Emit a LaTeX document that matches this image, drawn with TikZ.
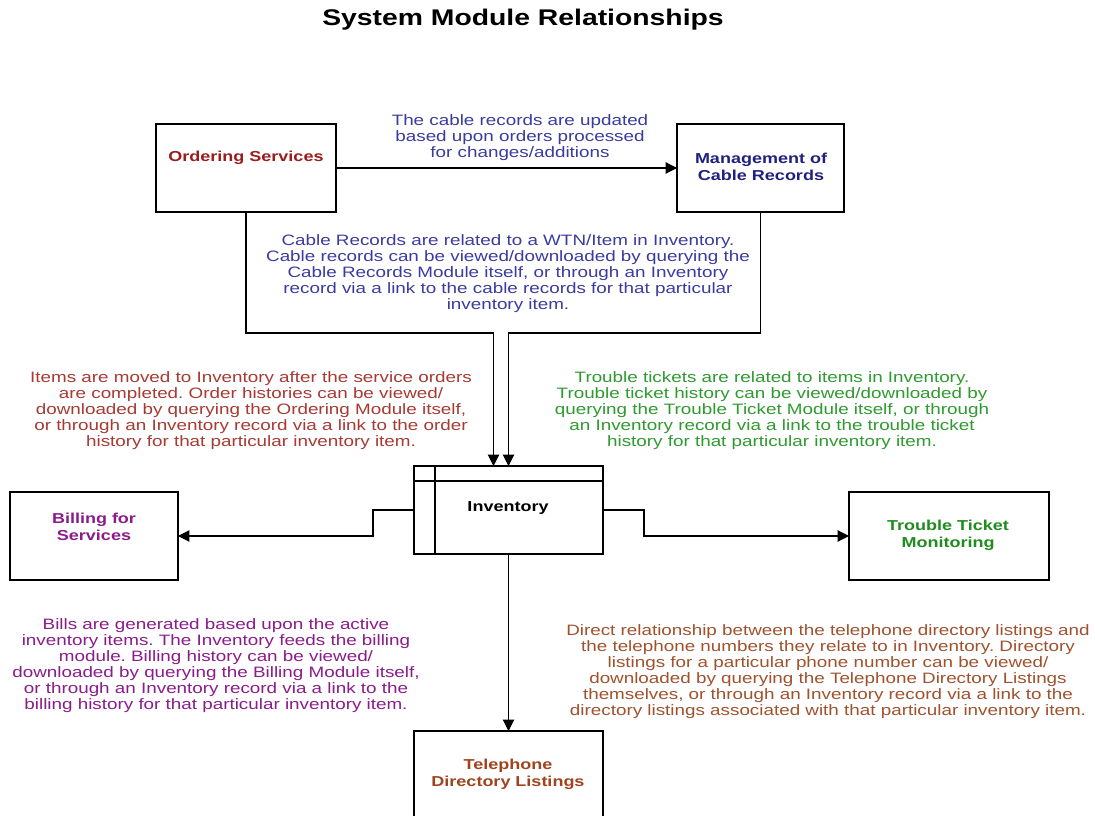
\documentclass[tikz,border=0pt]{standalone}
\usepackage{fontspec}
\setmainfont{Liberation Sans}[FakeStretch=1.25]
\usetikzlibrary{arrows.meta}
\frenchspacing

\definecolor{ordred}{HTML}{9A1C1C}
\definecolor{mgmtblue}{HTML}{202080}
\definecolor{cableblue}{HTML}{3B3BA0}
\definecolor{itemred}{HTML}{A83A32}
\definecolor{tickgreen}{HTML}{2E9B2E}
\definecolor{monigreen}{HTML}{1E8C1E}
\definecolor{billpurple}{HTML}{8B1C8B}
\definecolor{dirbrown}{HTML}{A0522D}
\definecolor{telbrown}{HTML}{A0441E}

\tikzset{
  module/.style={draw=black, line width=0.8pt, fill=white, inner sep=0pt, outer sep=0pt},
  modlabel/.style={font=\fontsize{10.8}{12.75}\selectfont\bfseries, align=center, inner sep=0pt},
  note/.style={font=\fontsize{11.3}{12}\selectfont, align=center, inner sep=0pt},
  link/.style={line width=0.8pt, -{Triangle[length=8.5pt, width=8.5pt]}},
  plainlink/.style={line width=0.8pt},
}

\begin{document}
\begin{tikzpicture}[x=0.75pt, y=-0.75pt]
\clip (0,0) rectangle (1095,816);
\fill[white] (0,0) rectangle (1095,816);

% title
\node[font=\fontsize{17}{20}\selectfont\bfseries, inner sep=0pt] (title) at (523,20) {System Module Relationships};

% module boxes
\node[module, minimum width=135pt, minimum height=66pt] (ord) at (246,168) {};
\node[module, minimum width=125.25pt, minimum height=66pt] (mgmt) at (760.5,168) {};
\node[module, minimum width=141.75pt, minimum height=66pt] (inv) at (508.5,510) {};
\node[module, minimum width=126pt, minimum height=66pt] (bill) at (94,536) {};
\node[module, minimum width=150pt, minimum height=66pt] (trouble) at (949,536) {};
\node[module, minimum width=141.75pt, minimum height=82.5pt] (tel) at (508.5,786) {};

% inner rules of the inventory box
\draw[plainlink] (inv.north west) ++(21,0) coordinate (invv) -- (invv |- inv.south);
\draw[plainlink] (inv.north west) ++(0,15) coordinate (invh) -- (invh -| inv.east);

% box labels
\node[modlabel, text=ordred] (ordlbl) at (246,158) {Ordering Services};
\node[modlabel, text=mgmtblue] (mgmtlbl) at (761,166.5) {Management of\\Cable Records};
\node[modlabel, text=black] (invlbl) at (508,508) {Inventory};
\node[modlabel, text=billpurple] (billlbl) at (94,527) {Billing for\\Services};
\node[modlabel, text=monigreen] (troublelbl) at (948,535) {Trouble Ticket\\Monitoring};
\node[modlabel, text=telbrown] (tellbl) at (508,774) {Telephone\\Directory Listings};

% connectors
\draw[link] (ord.east) -- (mgmt.west);
\coordinate (ordturn) at (246,333);
\coordinate (mgmtturn) at (760.5,333);
\coordinate (invinA) at (493.5,466);
\coordinate (invinB) at (508.5,466);
\draw[link] (ord.south) -- (ordturn) -- (ordturn -| invinA) -- (invinA);
\draw[link] (mgmt.south) -- (mgmtturn) -- (mgmtturn -| invinB) -- (invinB);
\coordinate (billturn) at (373,510);
\draw[link] (inv.west) -- (billturn) -- (billturn |- bill.east) -- (bill.east);
\coordinate (troubleturn) at (644,510);
\draw[link] (inv.east) -- (troubleturn) -- (troubleturn |- trouble.west) -- (trouble.west);
\draw[link] (inv.south) -- (tel.north);

% notes
\node[note, text=cableblue] (updnote) at (520,138) {The cable records are updated\\based upon orders processed\\for changes/additions};
\node[note, text=cableblue] (cablenote) at (508,274) {Cable Records are related to a WTN/Item in Inventory.\\Cable records can be viewed/downloaded by querying the\\Cable Records Module itself, or through an Inventory\\record via a link to the cable records for that particular\\inventory item.};
\node[note, text=itemred] (itemnote) at (251,411) {Items are moved to Inventory after the service orders\\are completed. Order histories can be viewed/\\downloaded by querying the Ordering Module itself,\\or through an Inventory record via a link to the order\\history for that particular inventory item.};
\node[note, text=tickgreen] (ticknote) at (772,411) {Trouble tickets are related to items in Inventory.\\Trouble ticket history can be viewed/downloaded by\\querying the Trouble Ticket Module itself, or through\\an Inventory record via a link to the trouble ticket\\history for that particular inventory item.};
\node[note, text=billpurple] (billnote) at (216,666) {Bills are generated based upon the active\\inventory items. The Inventory feeds the billing\\module. Billing history can be viewed/\\downloaded by querying the Billing Module itself,\\or through an Inventory record via a link to the\\billing history for that particular inventory item.};
\node[note, text=dirbrown] (dirnote) at (828,672) {Direct relationship between the telephone directory listings and\\the telephone numbers they relate to in Inventory. Directory\\listings for a particular phone number can be viewed/\\downloaded by querying the Telephone Directory Listings\\themselves, or through an Inventory record via a link to the\\directory listings associated with that particular inventory item.};
\end{tikzpicture}
\end{document}
